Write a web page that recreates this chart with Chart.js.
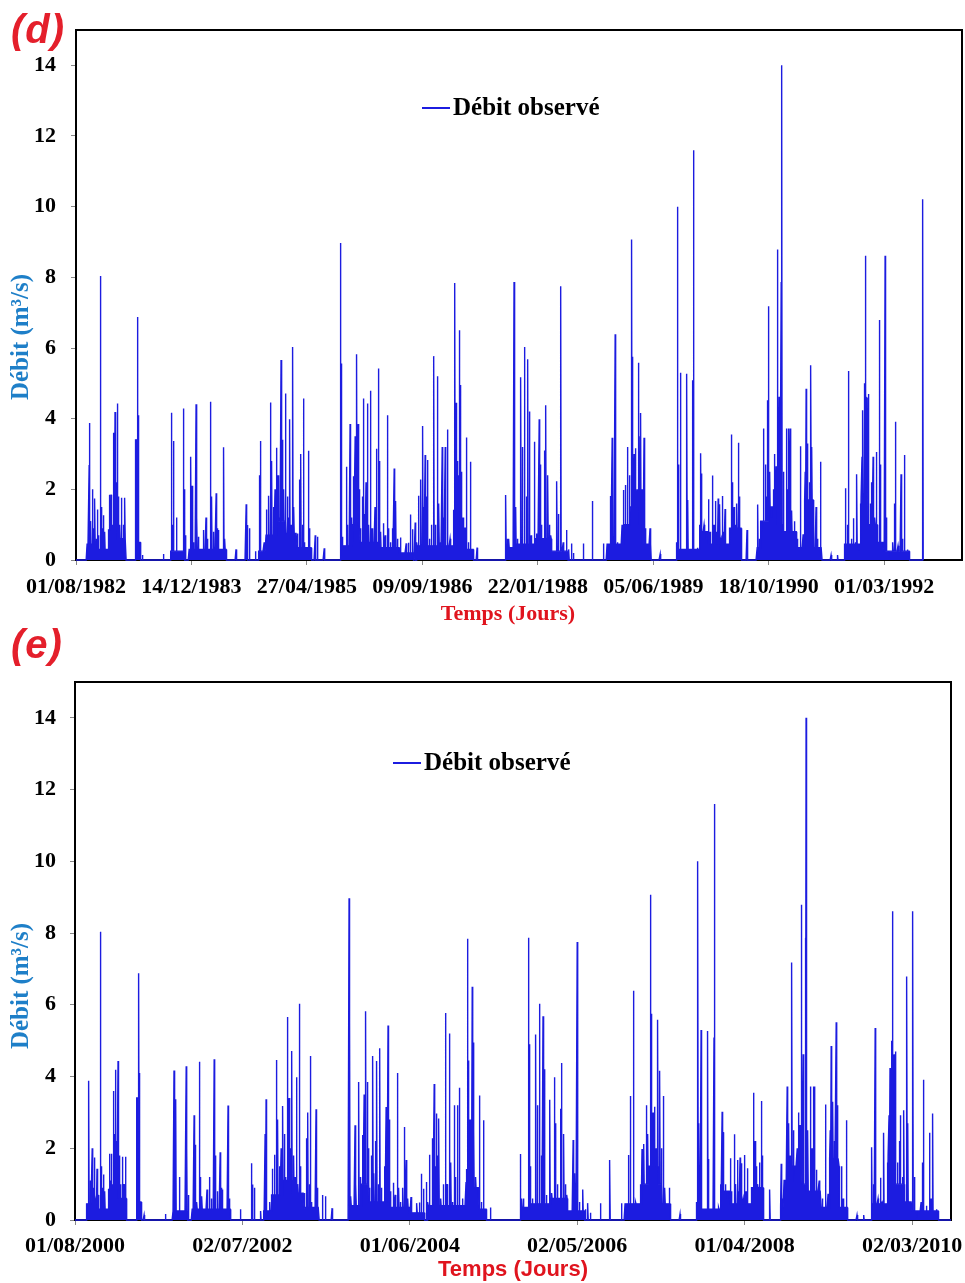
<!DOCTYPE html>
<html><head><meta charset="utf-8">
<script src="https://cdn.jsdelivr.net/npm/chart.js@4.4.1/dist/chart.umd.min.js"></script>
<style>
html,body{margin:0;padding:0;background:#fff;}
body{width:965px;height:1283px;position:relative;overflow:hidden;}
canvas{position:absolute;left:0;}
#c1{top:0;} #c2{top:630px;}
.panel{position:absolute;left:11px;color:#e41f2b;font:italic bold 40px "Liberation Sans",Arial,sans-serif;line-height:1;letter-spacing:1px;}
</style></head><body>
<canvas id="c1" width="965" height="640"></canvas>
<canvas id="c2" width="965" height="653"></canvas>
<div class="panel" style="top:9px">(d)</div>
<div class="panel" style="top:624px">(e)</div>
<script>
// ---- data (day index from start of record, discharge m3/s) ----
const nDays = 3670;
const spikeDay = [57,58,64,72,78,82,88,92,97,106,107,110,114,120,125,144,148,152,158,162,166,169,175,180,184,190,198,205,212,267,270,289,
378,414,418,422,436,465,468,474,498,503,510,520,524,531,552,563,570,582,588,595,607,612,617,640,645,693,
737,741,751,777,795,799,815,826,835,843,848,855,862,869,875,881,888,895,900,907,915,920,926,932,939,944,950,958,968,974,980,985,990,1008,1012,1036,1047,1075,
1146,1149,1154,1171,1175,1187,1195,1202,1209,1216,1222,1226,1232,1240,1246,1250,1256,1262,1268,1275,1282,1295,1301,1309,1314,1320,1332,1339,1348,1354,1362,1371,1378,1385,1392,1405,1430,1441,1449,1458,
1469,1476,1483,1494,1502,1507,1512,1517,1522,1530,1540,1550,1556,1565,1572,1579,1586,1591,1599,1604,1608,1620,1635,1641,1646,1652,1657,1661,1665,1668,1676,1691,1700,1709,1737,
1862,1869,1875,1897,1900,1905,1913,1927,1934,1943,1950,1957,1963,1971,1986,1994,2006,2010,2017,2030,2035,2044,2050,2057,2083,2090,2100,2110,2124,2135,2145,2155,2197,2237,2285,
2315,2322,2335,2345,2365,2371,2379,2389,2396,2407,2410,2417,2424,2430,2437,2443,2446,2452,2460,2467,2486,2530,
2600,2605,2609,2618,2632,2646,2650,2672,2674,2692,2700,2706,2710,2720,2730,2740,2746,2757,2763,2770,2776,2781,2788,2794,2800,2806,2811,2838,2844,2850,2855,2862,2870,2874,
2906,2953,2960,2970,2978,2985,2990,2995,2998,3005,3013,3020,3026,3032,3038,3045,3054,3057,3065,3076,3082,3087,3093,3100,3112,3125,3138,3149,3158,3162,3169,3176,3183,3187,3195,3205,3212,3225,3270,3299,
3332,3340,3346,3358,3368,3375,3382,3390,3398,3404,3408,3415,3419,3425,3432,3440,3447,3452,3460,3466,3479,3483,3490,3504,3510,3519,3538,3545,3549,3560,3573,3580,3587,3602,3668];
const spikeVal = [2.69,3.88,1.1,2.0,0.9,1.74,0.6,1.43,0.7,6.33,8.04,1.5,0.9,1.27,0.8,1.85,1.1,1.85,1.0,3.6,2.4,4.19,2.2,4.43,1.8,1.0,1.76,1.0,1.76,6.88,4.1,0.14,
0.17,4.17,1.0,3.37,1.2,4.29,2.0,0.7,2.92,2.1,0.5,4.41,1.2,0.66,0.85,1.2,0.6,4.48,1.8,0.8,1.89,0.9,0.85,3.19,0.6,0.3,
1.58,0.99,0.9,0.25,2.4,3.37,0.5,1.43,1.82,4.46,2.8,1.5,2.0,3.18,2.4,1.2,5.66,3.4,2.0,4.71,1.8,1.2,3.98,1.0,6.03,1.5,0.5,0.33,2.28,3.0,1.0,4.57,0.5,3.09,0.9,0.7,0.66,0.33,
8.97,5.56,0.66,2.64,1.0,3.85,1.2,2.37,3.5,5.82,3.85,2.0,0.9,1.8,4.57,1.3,2.2,4.43,1.0,4.79,0.9,1.5,3.15,5.42,2.8,0.8,1.04,0.7,4.1,0.9,0.5,0.9,2.59,1.67,0.6,0.64,0.47,0.49,1.29,0.87,
1.06,0.5,1.82,2.28,3.79,1.5,2.97,1.8,2.83,0.6,1.0,5.77,1.0,5.2,1.6,0.5,3.2,1.2,3.2,0.4,3.69,0.6,1.04,7.84,4.45,2.8,2.4,6.5,4.95,2.5,1.2,3.47,0.5,2.78,0.35,
1.84,0.6,0.6,7.87,4.9,1.5,0.6,5.17,3.2,6.03,1.8,5.68,4.2,0.7,3.35,0.75,3.98,2.7,1.0,3.1,4.38,2.4,1.0,0.7,2.23,1.3,7.75,0.5,0.85,0.3,0.47,0.2,0.47,1.67,0.47,
1.81,3.46,6.39,0.5,1.0,1.98,2.12,3.2,2.4,9.07,5.75,3.0,3.16,2.0,5.58,3.5,4.16,2.0,3.46,0.9,0.9,0.17,
0.5,10.0,2.7,5.3,0.3,5.27,1.7,5.09,11.6,0.35,1.0,3.02,2.45,1.0,0.6,1.72,0.8,2.39,1.0,1.67,0.8,1.74,1.58,0.6,1.81,0.8,1.44,3.55,2.2,1.5,1.0,1.6,3.32,1.8,
0.85,1.57,0.6,0.8,3.72,2.7,1.8,4.52,7.18,2.5,1.2,2.0,3.0,2.65,8.79,4.62,7.87,14.0,2.5,3.72,2.0,3.72,3.72,1.4,1.1,0.6,3.22,0.73,2.5,4.85,3.3,2.2,5.51,3.2,1.5,1.5,0.6,2.78,0.14,0.14,
2.03,1.0,5.35,0.6,1.18,0.5,2.43,0.4,1.6,2.92,4.24,5.0,8.61,4.5,4.7,1.6,2.2,2.92,1.2,3.06,6.79,2.7,0.5,8.61,1.2,0.2,0.5,1.6,3.91,0.4,2.43,0.6,2.97,0.3,10.21];
const baseStart = [48,95,140,180,257,268,410,490,790,823,870,910,960,1146,1200,1230,1320,1400,1476,1635,1665,1690,1862,1900,1990,2060,2300,2370,2400,2440,2455,2600,2700,2740,2830,2950,2965,3000,3040,3060,3120,3155,3195,3330,3400,3418,3430,3470,3500];
const baseEnd   = [95,140,180,216,266,278,470,650,822,870,910,960,1020,1200,1230,1320,1400,1460,1635,1665,1690,1720,1900,1990,2060,2130,2370,2400,2440,2455,2490,2700,2740,2830,2880,2965,3000,3040,3060,3120,3155,3195,3230,3400,3418,3430,3470,3500,3610];
const baseLevel = [0.45,0.3,0.85,0.6,3.4,0.5,0.25,0.3,0.25,0.7,1.1,0.75,0.35,0.4,1.0,0.5,0.35,0.2,0.4,1.4,0.9,0.3,0.35,0.45,0.6,0.25,0.45,1.0,1.5,1.0,0.45,0.3,0.8,0.45,0.9,0.35,1.1,1.5,1.0,0.8,0.35,1.7,0.35,0.45,1.8,4.6,1.0,0.5,0.25];

const yTicks = [0,2,4,6,8,10,12,14];
const xTicksD = [0,500,1000,1500,2000,2500,3000,3500];
const xLabelsD = ['01/08/1982','14/12/1983','27/04/1985','09/09/1986','22/01/1988','05/06/1989','18/10/1990','01/03/1992'];
const xTicksE = [0,700,1400,2100,2800,3500];
const xLabelsE = ['01/08/2000','02/07/2002','01/06/2004','02/05/2006','01/04/2008','02/03/2010'];

// ---- build daily series ----
const flow = new Array(nDays).fill(0);
baseStart.forEach((s,i)=>{ for(let d=s; d<=baseEnd[i]; d++) flow[d]=baseLevel[i]; });
spikeDay.forEach((d,i)=>{ flow[d]=spikeVal[i]; });
const points = flow.map((v,i)=>({x:i,y:v}));

const BLUE = '#1c1ce0';
const serifBold = {family:'"Liberation Serif","Times New Roman",serif', weight:'bold', size:22};

function makeChart(id, cfg){
  const deco = {
    id:'deco'+id,
    beforeDatasetsDraw(chart){
      const a = chart.chartArea, ctx = chart.ctx;
      ctx.save(); ctx.strokeStyle='#000'; ctx.lineWidth=2;
      ctx.strokeRect(a.left, a.top, a.right-a.left, a.bottom-a.top);
      ctx.restore();
    },
    afterDraw(chart){
      const ctx = chart.ctx;
      ctx.save();
      ctx.translate(cfg.yTitleX, cfg.yTitleY); ctx.rotate(-Math.PI/2);
      ctx.fillStyle='#1e7fc8'; ctx.font='bold 25px "Liberation Serif","Times New Roman",serif';
      ctx.textAlign='center'; ctx.textBaseline='middle';
      ctx.fillText('Débit (m³/s)',0,0);
      ctx.restore();
      ctx.save();
      ctx.strokeStyle=BLUE; ctx.lineWidth=2;
      ctx.beginPath(); ctx.moveTo(cfg.legX, cfg.legY); ctx.lineTo(cfg.legX+28, cfg.legY); ctx.stroke();
      ctx.fillStyle='#000'; ctx.font='bold 25px "Liberation Serif","Times New Roman",serif';
      ctx.textAlign='left'; ctx.textBaseline='middle';
      ctx.fillText(chart.data.datasets[0].label, cfg.legX+31, cfg.legY+1);
      ctx.restore();
    }
  };
  return new Chart(document.getElementById(id), {
    type:'line',
    data:{datasets:[{label:'Débit observé', data:points, borderColor:BLUE, backgroundColor:BLUE,
      borderWidth:1.4, pointRadius:0, tension:0, fill:'origin', clip:{left:0,top:0,right:0,bottom:3}}]},
    options:{
      responsive:false, animation:false, devicePixelRatio:1,
      layout:{padding:{top:cfg.top, right:cfg.right, left:0, bottom:0}},
      plugins:{legend:{display:false}, tooltip:{enabled:false}},
      scales:{
        x:{type:'linear', min:0, max:cfg.xMax,
          afterBuildTicks:s=>{ s.ticks = cfg.xTicks.map(v=>({value:v})); },
          afterFit:s=>{ s.height=cfg.xH; s.paddingLeft=0; s.paddingRight=0; s.paddingTop=0; s.paddingBottom=0; },
          ticks:{autoSkip:false, maxRotation:0, minRotation:0, padding:cfg.xPad, color:'#000', font:serifBold,
            callback:(v,i)=>cfg.xLabels[i]},
          grid:{drawOnChartArea:false, tickLength:5, color:'#888'},
          border:{display:false},
          title:{display:true, text:cfg.xTitle, color:'#e0141e', font:cfg.xTitleFont, padding:{top:0,bottom:cfg.xTitlePb}}
        },
        y:{min:0, max:15,
          afterBuildTicks:s=>{ s.ticks = yTicks.map(v=>({value:v})); },
          afterFit:s=>{ s.width=cfg.yW; s.paddingTop=0; s.paddingBottom=0; },
          ticks:{padding:cfg.yPad, color:'#000', font:serifBold},
          grid:{drawOnChartArea:false, tickLength:5, color:'#888'},
          border:{display:false}
        }
      }
    },
    plugins:[deco]
  });
}

makeChart('c1', {top:30, right:3, yW:76, xH:80, xPad:9, yPad:15, xMax:3837,
  xTicks:xTicksD, xLabels:xLabelsD, xTitle:'Temps (Jours)    ', xTitleFont:serifBold, xTitlePb:12,
  yTitleX:22, yTitleY:337, legX:422, legY:108});
makeChart('c2', {top:52, right:14, yW:75, xH:63, xPad:8, yPad:14, xMax:3663,
  xTicks:xTicksE, xLabels:xLabelsE, xTitle:'Temps (Jours)',
  xTitleFont:{family:'"Liberation Sans",Arial,sans-serif', weight:'bold', size:22}, xTitlePb:0,
  yTitleX:22, yTitleY:356, legX:393, legY:133});
</script>
</body></html>
